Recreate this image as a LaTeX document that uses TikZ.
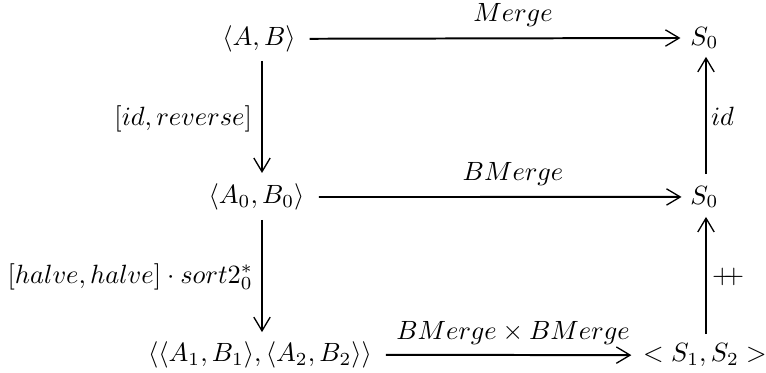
\documentclass[tikz,border=0pt]{standalone}
\usetikzlibrary{arrows.meta}
\begin{document}
\begin{tikzpicture}[x=0.3788pt,y=-0.3788pt,
  obj/.style={inner sep=0pt,outer sep=0pt,anchor=base},
  lbl/.style={inner sep=0pt,outer sep=0pt,anchor=base},
  arr/.style={line width=0.75pt,-{Straight Barb[length=5.2pt,width=6.2pt,line width=0.5pt]}}]
\useasboundingbox (0,0) rectangle (766,372);
% column coordinates
\coordinate (cL) at (262,0);
\coordinate (cR) at (706,0);
% objects
\node[obj] (AB)   at (259,45.4)  {$\langle A, B\rangle$};
\node[obj] (S0t)  at (704.5,45)  {$S_0$};
\node[obj] (A0B0) at (256.5,203.6) {$\langle A_0, B_0\rangle$};
\node[obj] (S0m)  at (704.5,204) {$S_0$};
\node[obj] (L3)   at (260,361.4) {$\langle\langle A_1, B_1\rangle, \langle A_2, B_2\rangle\rangle$};
\node[obj] (R3)   at (705,361.6) {$< S_1, S_2 >$};
% horizontal arrows
\draw[arr,shorten <=5.3pt,shorten >=3.8pt] (AB.east) -- (S0t.west);
\draw[arr,shorten <=5.5pt,shorten >=3.4pt] (A0B0.east) -- (S0m.west);
\draw[arr,shorten <=5.3pt,shorten >=4.5pt] (L3.east) -- (R3.west);
% vertical arrows
\draw[arr,shorten <=3.4pt,shorten >=4.1pt] (AB.south -| cL) -- (A0B0.north -| cL);
\draw[arr,shorten <=3.7pt,shorten >=3.6pt] (A0B0.south -| cL) -- (L3.north -| cL);
\draw[arr,shorten <=4.5pt,shorten >=3.0pt] (S0m.north -| cR) -- (S0t.south -| cR);
\draw[arr,shorten <=3.6pt,shorten >=3.4pt] (R3.north -| cR) -- (S0m.south -| cR);
% labels
\node[lbl] (lMerge)  at (513,21.5) {$Merge$};
\node[lbl] (lBMerge) at (513,180.5) {$BMerge$};
\node[lbl] (lProd)   at (513,339) {$BMerge \times BMerge$};
\node[lbl,anchor=base east] (lRev)  at (252,125) {$[id, reverse]$};
\node[lbl,anchor=base east] (lHalve) at (253,283.4) {$[halve, halve] \cdot sort2^*_0$};
\node[lbl,anchor=base west] (lId)   at (711,125) {$id$};
\node[lbl,anchor=base west] (lCat)  at (712,283.5) {$+\!\!+$};
\end{tikzpicture}
\end{document}
